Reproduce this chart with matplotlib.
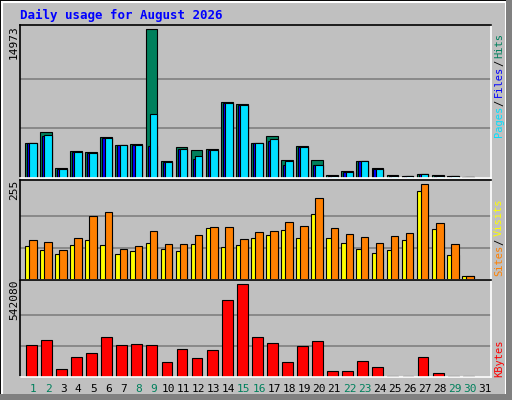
import numpy as np
import matplotlib.pyplot as plt
from matplotlib.patches import Rectangle

days = np.arange(1, 32)
weekend = [1, 2, 8, 9, 15, 16, 22, 23, 29, 30]

# (pixel heights scaled to the max labels)
hits = np.array([103, 136, 31, 79, 76, 121, 97, 100, 442, 49, 91, 82, 85, 226, 220, 103,
                 124, 52, 94, 52, 10, 22, 49, 31, 10, 7, 13, 10, 7, 4, 0]) * 14973 / 442
files = np.array([103, 124, 28, 76, 73, 118, 97, 97, 95, 46, 85, 55, 82, 222, 217, 103,
                  109, 40, 91, 40, 7, 19, 49, 28, 7, 7, 13, 7, 7, 4, 0]) * 14973 / 442
pages = np.array([103, 127, 28, 76, 73, 118, 97, 97, 190, 46, 85, 64, 82, 222, 217, 103,
                  115, 49, 91, 40, 7, 19, 49, 28, 7, 7, 13, 7, 7, 4, 0]) * 14973 / 442
sites = np.array([99, 88, 76, 100, 115, 100, 76, 85, 106, 91, 85, 103, 151, 94, 100, 121,
                  130, 145, 121, 190, 121, 106, 91, 79, 88, 115, 256, 148, 73, 13, 0]) * 255 / 276
visits = np.array([115, 109, 88, 121, 184, 196, 91, 97, 142, 103, 103, 130, 154, 154, 118, 139,
                   142, 169, 157, 238, 151, 133, 124, 106, 127, 136, 276, 166, 103, 13, 0]) * 255 / 276
kbytes = np.array([95, 110, 23, 59, 71, 119, 95, 98, 95, 44, 83, 56, 80, 227, 275, 119,
                   101, 44, 92, 107, 17, 17, 47, 29, 2, 2, 59, 11, 2, 2, 0]) * 542080 / 275

GRAY = "#c0c0c0"
fig = plt.figure(figsize=(5.12, 4.0), dpi=100, facecolor=GRAY)
mono = "DejaVu Sans Mono"
X0, X1 = 0.137, 31.4


def px_axes(x0, y0, x1, y1):
    return fig.add_axes([x0 / 512, 1 - y1 / 400, (x1 - x0) / 512, (y1 - y0) / 400])


# frame: white/black edges and dark shadow
fig.patches.append(Rectangle((0, 0), 1, 1, transform=fig.transFigure, fill=False,
                             edgecolor="black", lw=1.5))
fig.patches.append(Rectangle((2 / 512, 2 / 400), 504 / 512, 396 / 400, transform=fig.transFigure,
                             fill=False, edgecolor="white", lw=1.5))
fig.patches.append(Rectangle((506 / 512, 0), 6 / 512, 1, transform=fig.transFigure,
                             color="#808080", lw=0))
fig.patches.append(Rectangle((0, 0), 1, 6 / 400, transform=fig.transFigure,
                             color="#808080", lw=0))

ax1 = px_axes(20, 25, 491, 178)
ax2 = px_axes(20, 180, 491, 280)
ax3 = px_axes(20, 280, 491, 377)

kw = dict(align="edge", edgecolor="black", linewidth=0.8)
ax1.bar(days - 0.53, hits, width=0.78, color="#00805c", **kw)
ax1.bar(days - 0.4, files, width=0.65, color="#0000ff", **kw)
ax1.bar(days - 0.25, pages, width=0.5, color="#00e0ff", **kw)
ax1.set_ylim(0, 14973 * 151 / 147)
top1 = 14973

ax2.bar(days - 0.53, sites, width=0.78, color="#ffff00", **kw)
ax2.bar(days - 0.25, visits, width=0.5, color="#ff8000", **kw)
ax2.set_ylim(0, 255 * 96 / 91.7)
top2 = 255

ax3.bar(days - 0.47, kbytes, width=0.72, color="#ff0000", **kw)
ax3.set_ylim(0, 542080 * 96 / 92)
top3 = 542080

for ax, top in [(ax1, top1), (ax2, top2), (ax3, top3)]:
    ax.set_facecolor(GRAY)
    ax.set_xlim(X0, X1)
    for f in (1 / 3, 2 / 3):
        ax.axhline(top * f, color="#808080", lw=1.2, zorder=0)
    ax.set_xticks([])
    ax.set_yticks([])
    for s in ax.spines.values():
        s.set_color("black")
        s.set_linewidth(1.2)
    ax.spines["bottom"].set_color("white")
    ax.spines["right"].set_color("white")

fig.text(20 / 512, 1 - 15 / 400, "Daily usage for August 2026", color="#0000ff",
         family=mono, weight="bold", fontsize=9, va="center")

# max value labels on the left
for y, txt in [(25, "14973"), (180, "255"), (280, "542080")]:
    fig.text(14 / 512, 1 - y / 400, txt, rotation=90, ha="center", va="top",
             family=mono, fontsize=8)


# right-side legends, stacked bottom to top
def legend(parts, y_bottom):
    y = y_bottom
    for txt, col in parts:
        fig.text(499 / 512, 1 - y / 400, txt, rotation=90, ha="center", va="bottom",
                 family=mono, fontsize=7.5, color=col)
        y -= len(txt) * 5.6 + 3


legend([("Pages", "#00e0ff"), ("/", "black"), ("Files", "#0000ff"), ("/", "black"),
        ("Hits", "#00805c")], 137)
legend([("Sites", "#ff8000"), ("/", "black"), ("Visits", "#ffff00")], 276)
legend([("KBytes", "#ff0000")], 377)

for d in days:
    x = 20 + (d - X0) / (X1 - X0) * 471
    fig.text(x / 512, 1 - 389 / 400, str(d), ha="center", va="center", family=mono,
             fontsize=8, color="#00805c" if d in weekend else "black")

fig.savefig("out.png", dpi=100, facecolor=GRAY)
